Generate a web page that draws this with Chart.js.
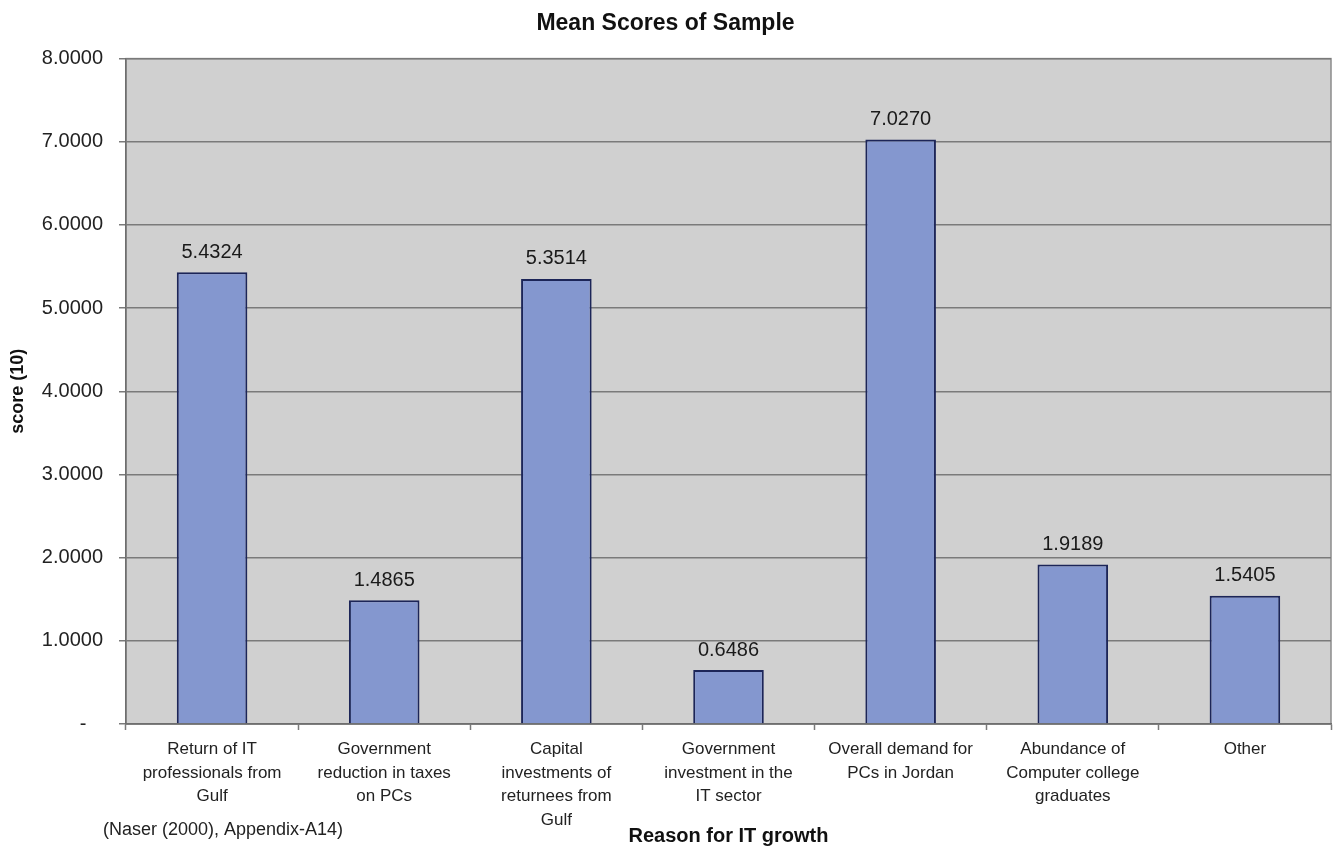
<!DOCTYPE html>
<html>
<head>
<meta charset="utf-8">
<script src="https://cdn.jsdelivr.net/npm/chart.js@4.4.1/dist/chart.umd.min.js"></script>
<style>
  html, body { margin: 0; padding: 0; background: #ffffff; }
  #wrap { width: 1338px; height: 850px; position: relative; }
</style>
</head>
<body>
<div id="wrap"><canvas id="chart" width="1338" height="850"></canvas></div>
<script>
// Reasons for IT growth and their mean scores (out of 10)
const categories = [
  ["Return of IT", "professionals from", "Gulf"],
  ["Government", "reduction in taxes", "on PCs"],
  ["Capital", "investments of", "returnees from", "Gulf"],
  ["Government", "investment in the", "IT sector"],
  ["Overall demand for", "PCs in Jordan"],
  ["Abundance of", "Computer college", "graduates"],
  ["Other"]
];
const meanScores = [5.4324, 1.4865, 5.3514, 0.6486, 7.0270, 1.9189, 1.5405];
const yTicks = [0, 1, 2, 3, 4, 5, 6, 7, 8];

const chartTitle = "Mean Scores of Sample";
const xTitle = "Reason for IT growth";
const yTitle = "score (10)";
const sourceNote = "(Naser (2000), Appendix-A14)";

const FONT = "'Liberation Sans', Arial, Helvetica, sans-serif";

// Grey plot background with a thin frame
const plotBackground = {
  id: 'plotBackground',
  beforeDraw(chart) {
    const { ctx, chartArea: a } = chart;
    ctx.save();
    ctx.fillStyle = '#d0d0d0';
    ctx.fillRect(a.left, a.top, a.right - a.left, a.bottom - a.top);
    ctx.strokeStyle = '#8c8c8c';
    ctx.lineWidth = 1.5;
    ctx.strokeRect(a.left, a.top, a.right - a.left, a.bottom - a.top);
    ctx.restore();
  }
};

// Value printed above every bar
const valueLabels = {
  id: 'valueLabels',
  afterDatasetsDraw(chart) {
    const { ctx } = chart;
    const meta = chart.getDatasetMeta(0);
    ctx.save();
    ctx.font = '20px ' + FONT;
    ctx.fillStyle = '#1a1a1a';
    ctx.textAlign = 'center';
    ctx.textBaseline = 'middle';
    meta.data.forEach((bar, i) => {
      ctx.fillText(meanScores[i].toFixed(4), bar.x, bar.y - 20);
    });
    ctx.restore();
  }
};

// Source reference in the lower left corner
const sourceText = {
  id: 'sourceText',
  afterDraw(chart) {
    const { ctx } = chart;
    ctx.save();
    ctx.font = '18px ' + FONT;
    ctx.fillStyle = '#222222';
    ctx.textAlign = 'left';
    ctx.textBaseline = 'middle';
    ctx.fillText(sourceNote, 103, 830);
    ctx.restore();
  }
};

new Chart(document.getElementById('chart'), {
  type: 'bar',
  data: {
    labels: categories,
    datasets: [{
      data: meanScores,
      backgroundColor: '#8497cf',
      borderColor: '#1c2558',
      borderWidth: 2,
      borderSkipped: 'bottom',
      categoryPercentage: 1.0,
      barPercentage: 0.41
    }]
  },
  options: {
    responsive: false,
    animation: false,
    layout: { padding: { left: 0, right: 7, top: 0, bottom: 0 } },
    plugins: {
      legend: { display: false },
      tooltip: { enabled: false },
      title: {
        display: true,
        text: chartTitle,
        color: '#111111',
        font: { family: FONT, size: 23, weight: 'bold' },
        padding: { top: 10, bottom: 21 }
      }
    },
    scales: {
      x: {
        afterFit(scale) { scale.height = 126; },
        grid: {
          display: true,
          offset: true,
          drawOnChartArea: false,
          drawTicks: true,
          tickLength: 6,
          tickColor: '#7a7a7a',
          tickWidth: 1.5
        },
        border: { display: true, color: '#6e6e6e', width: 1.5 },
        ticks: {
          autoSkip: false,
          maxRotation: 0,
          minRotation: 0,
          padding: 8,
          color: '#222222',
          font: { family: FONT, size: 17, lineHeight: 1.38 }
        },
        title: {
          display: true,
          text: xTitle,
          color: '#111111',
          font: { family: FONT, size: 20, weight: 'bold' },
          padding: { top: 0, bottom: 2 }
        }
      },
      y: {
        min: 0,
        max: 8,
        afterFit(scale) { scale.width = 126; },
        afterBuildTicks(scale) { scale.ticks = yTicks.map(v => ({ value: v })); },
        grid: {
          color: '#7a7a7a',
          lineWidth: 1.5,
          drawTicks: true,
          tickLength: 7
        },
        border: { display: true, color: '#6e6e6e', width: 1.5 },
        ticks: {
          padding: 16,
          color: '#222222',
          font: { family: FONT, size: 20 },
          callback: (v) => v === 0 ? '-   ' : Number(v).toFixed(4)
        },
        title: {
          display: true,
          text: yTitle,
          color: '#111111',
          font: { family: FONT, size: 18, weight: 'bold' },
          padding: { top: 7, bottom: 0 }
        }
      }
    }
  },
  plugins: [plotBackground, valueLabels, sourceText]
});
</script>
</body>
</html>
